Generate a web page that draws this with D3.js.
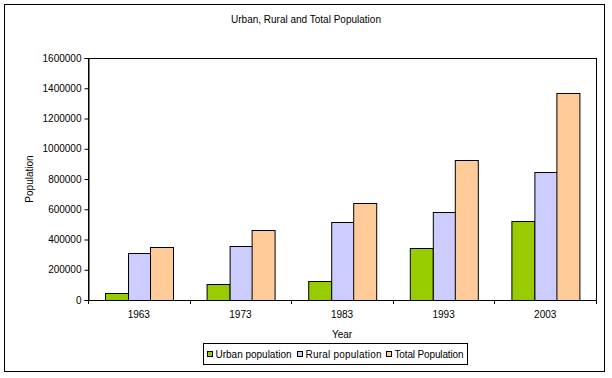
<!DOCTYPE html>
<html>
<head>
<meta charset="utf-8">
<script src="https://cdn.jsdelivr.net/npm/d3@7"></script>
<style>
  body { margin: 0; background: #fff; }
  text { font-family: Arial, "Liberation Sans", sans-serif; fill: #000; }
</style>
</head>
<body>
<div id="chart"></div>
<script>
// data
var years = ["1963", "1973", "1983", "1993", "2003"];
var seriesNames = ["Urban population", "Rural population", "Total Population"];
var urban = [45000, 105000, 124000, 344000, 524000];
var rural = [310000, 358000, 518000, 584000, 844000];
var total = [350000, 464000, 644000, 924000, 1370000];
var yTicks = [0, 200000, 400000, 600000, 800000, 1000000, 1200000, 1400000, 1600000];
var colors = ["#99CC00", "#CCCCFF", "#FFCC99"];

var W = 612, H = 378;
var margin = {top: 58, right: 16, bottom: 78, left: 88};
var width = W - margin.left - margin.right,
    height = H - margin.top - margin.bottom;

var svg = d3.select("#chart").append("svg")
  .attr("width", W)
  .attr("height", H);

// outer frame
svg.append("rect")
  .attr("x", 4.5).attr("y", 4.5)
  .attr("width", 600).attr("height", 367)
  .attr("fill", "#fff").attr("stroke", "#000").attr("stroke-width", 1);

svg.append("text")
  .attr("x", 306).attr("y", 23)
  .attr("text-anchor", "middle")
  .style("font-size", "10px")
  .text("Urban, Rural and Total Population");

var g = svg.append("g")
  .attr("transform", "translate(" + margin.left + "," + margin.top + ")");

// x: Excel style gap width 150% -> 3 bars + 1.5 bar of gap per band
var x0 = d3.scaleBand().domain(years).range([0, width]).paddingInner(0).paddingOuter(0);
var barW = x0.bandwidth() / 4.5;
var x1 = d3.scaleBand().domain(seriesNames).range([barW * 0.75, barW * 3.75]);

var y = d3.scaleLinear().domain([0, 1600000]).range([height, 0]);

// plot area box
g.append("rect")
  .attr("x", 0.5).attr("y", 0.5)
  .attr("width", width).attr("height", height)
  .attr("fill", "none").attr("stroke", "#000");

var rows = years.map(function(yr, i) {
  return {year: yr, vals: [urban[i], rural[i], total[i]]};
});

var grp = g.selectAll(".grp")
  .data(rows)
  .enter().append("g")
  .attr("transform", function(d) { return "translate(" + x0(d.year) + ",0)"; });

grp.selectAll("rect")
  .data(function(d) { return d.vals.map(function(v, k) { return {name: seriesNames[k], v: v, k: k}; }); })
  .enter().append("rect")
  .attr("x", function(d) { return Math.round(x1(d.name)) + 0.5; })
  .attr("y", function(d) { return Math.round(y(d.v)) + 0.5; })
  .attr("width", Math.round(x1.bandwidth()))
  .attr("height", function(d) { return height - Math.round(y(d.v)); })
  .attr("fill", function(d) { return colors[d.k]; })
  .attr("stroke", "#000")
  .attr("stroke-width", 1);

// y axis
var yAxis = g.append("g")
  .attr("transform", "translate(0.5,0)")
  .call(d3.axisLeft(y).tickValues(yTicks).tickFormat(d3.format("d")).tickSize(4).tickPadding(3));
yAxis.selectAll("text").style("font-size", "10px");

// x axis
var xAxis = g.append("g")
  .attr("transform", "translate(0," + (height + 0.5) + ")")
  .call(d3.axisBottom(x0).tickSize(0).tickPadding(10));
xAxis.select(".domain").remove();
xAxis.selectAll("text").style("font-size", "10px");
// ticks at band boundaries
g.append("g").selectAll("line")
  .data(years.concat(["end"]))
  .enter().append("line")
  .attr("x1", function(d, i) { return Math.round(i * x0.step()) + 0.5; })
  .attr("x2", function(d, i) { return Math.round(i * x0.step()) + 0.5; })
  .attr("y1", height).attr("y2", height + 4)
  .attr("stroke", "#000");

// axis titles
svg.append("text")
  .attr("transform", "translate(33," + (margin.top + height / 2) + ") rotate(-90)")
  .attr("text-anchor", "middle")
  .style("font-size", "10px")
  .text("Population");

svg.append("text")
  .attr("x", 342).attr("y", 338)
  .attr("text-anchor", "middle")
  .style("font-size", "10px")
  .text("Year");

// legend
var leg = svg.append("g").attr("transform", "translate(203.5,343.5)");
leg.append("rect")
  .attr("width", 264).attr("height", 21)
  .attr("fill", "#fff").attr("stroke", "#000");
var legX = [4, 94, 183];
var legLen = [76, 76, 69];
var item = leg.selectAll(".item")
  .data(seriesNames)
  .enter().append("g")
  .attr("transform", function(d, i) { return "translate(" + legX[i] + ",8)"; });
item.append("rect")
  .attr("width", 5).attr("height", 5)
  .attr("fill", function(d, i) { return colors[i]; })
  .attr("stroke", "#000");
item.append("text")
  .attr("x", 8).attr("y", 6)
  .attr("textLength", function(d, i) { return legLen[i]; })
  .attr("lengthAdjust", "spacing")
  .style("font-size", "10px")
  .text(function(d) { return d; });
</script>
</body>
</html>
